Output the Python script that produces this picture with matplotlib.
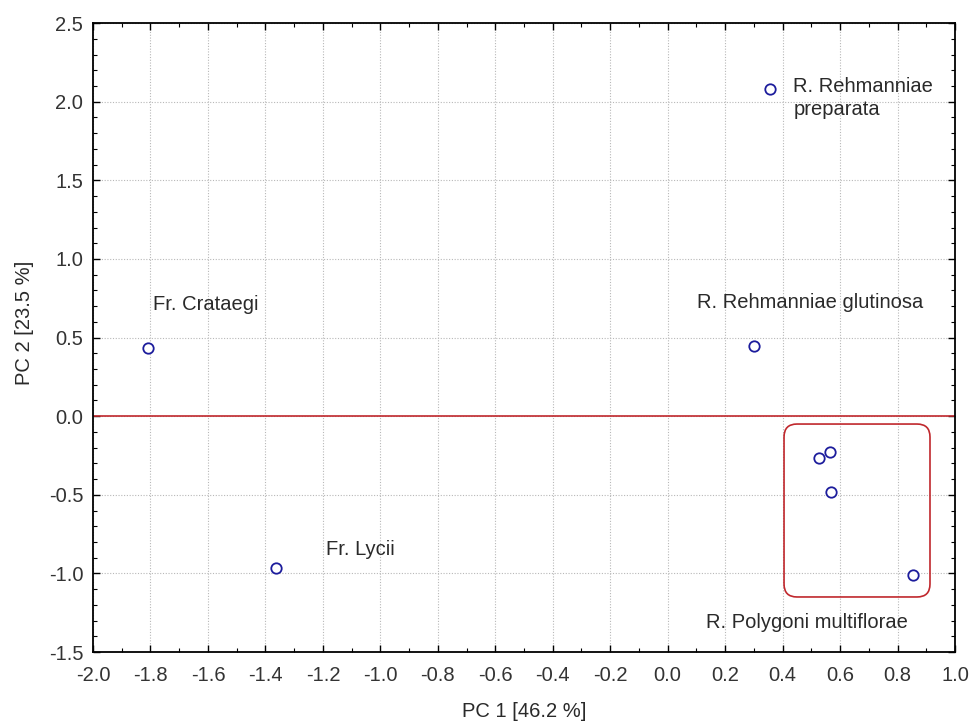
import matplotlib
matplotlib.use("Agg")
import matplotlib.pyplot as plt
from matplotlib.patches import FancyBboxPatch
from matplotlib.ticker import MultipleLocator
import numpy as np

plt.rcParams['font.family'] = ['Liberation Sans', 'DejaVu Sans']

pc1 = [-1.809, -1.363, 0.356, 0.301, 0.527, 0.565, 0.569, 0.854]
pc2 = [0.433, -0.966, 2.08, 0.446, -0.266, -0.228, -0.482, -1.010]

label_texts = ["Fr. Crataegi", "Fr. Lycii", "R. Rehmanniae\npreparata",
               "R. Rehmanniae glutinosa", "R. Polygoni multiflorae"]
label_x = [-1.79, -1.19, 0.437, 0.102, 0.134]
label_y = [0.71, -0.85, 2.08, 0.726, -1.31]

group_box = (0.405, -1.15, 0.913, -0.05)  # x0, y0, x1, y1

FS = 14.5

fig = plt.figure(figsize=(9.72, 7.23), dpi=100)
ax = fig.add_axes([0.0957, 0.0982, 0.8868, 0.8698])

ax.set_xlim(-2.0, 1.0)
ax.set_ylim(-1.5, 2.5)
ax.xaxis.set_major_locator(MultipleLocator(0.2))
ax.xaxis.set_minor_locator(MultipleLocator(0.1))
ax.yaxis.set_major_locator(MultipleLocator(0.5))
ax.yaxis.set_minor_locator(MultipleLocator(0.1))
ax.xaxis.set_major_formatter(plt.FuncFormatter(lambda v, p: f"{v:.1f}"))
ax.yaxis.set_major_formatter(plt.FuncFormatter(lambda v, p: f"{v:.1f}"))

ax.grid(True, which='major', color='#b8b8b8', linestyle=(0, (1, 1.5)), linewidth=0.8)
ax.set_axisbelow(True)

ax.tick_params(which='both', direction='in', top=True, right=True,
               labelsize=FS, colors='black', labelcolor='#333333')
ax.tick_params(which='major', length=5, width=1)
ax.tick_params(axis='x', which='major', pad=10)
ax.tick_params(axis='y', which='major', pad=7)
ax.tick_params(which='minor', length=3, width=0.8)
for s in ax.spines.values():
    s.set_linewidth(1.3)

ax.axhline(0, color='#c0282d', linewidth=1.2, zorder=2)

x0, y0, x1, y1 = group_box
box = FancyBboxPatch((x0, y0), x1 - x0, y1 - y0,
                     boxstyle="round,pad=0,rounding_size=0.045",
                     mutation_aspect=1.83, fill=False,
                     edgecolor='#c0282d', linewidth=1.2, zorder=2)
ax.add_patch(box)

ax.plot(pc1, pc2, linestyle='none', marker='o', markersize=7.5,
        markerfacecolor='white', markeredgecolor='#1c1c9c', markeredgewidth=1.3, zorder=3)

for t, lx, ly in zip(label_texts, label_x, label_y):
    va = 'top' if '\n' in t else 'center'
    yy = ly + 0.075 if '\n' in t else ly
    ax.text(lx, yy, t, fontsize=FS, color='#2a2a2a', ha='left', va=va,
            linespacing=1.25, zorder=4)

ax.set_xlabel("PC 1 [46.2 %]", fontsize=FS, color='#2a2a2a', labelpad=12)
ax.set_ylabel("PC 2 [23.5 %]", fontsize=FS, color='#2a2a2a', labelpad=10)
ax.yaxis.set_label_coords(-0.069, 0.523)

fig.savefig("out.png", dpi=100)
